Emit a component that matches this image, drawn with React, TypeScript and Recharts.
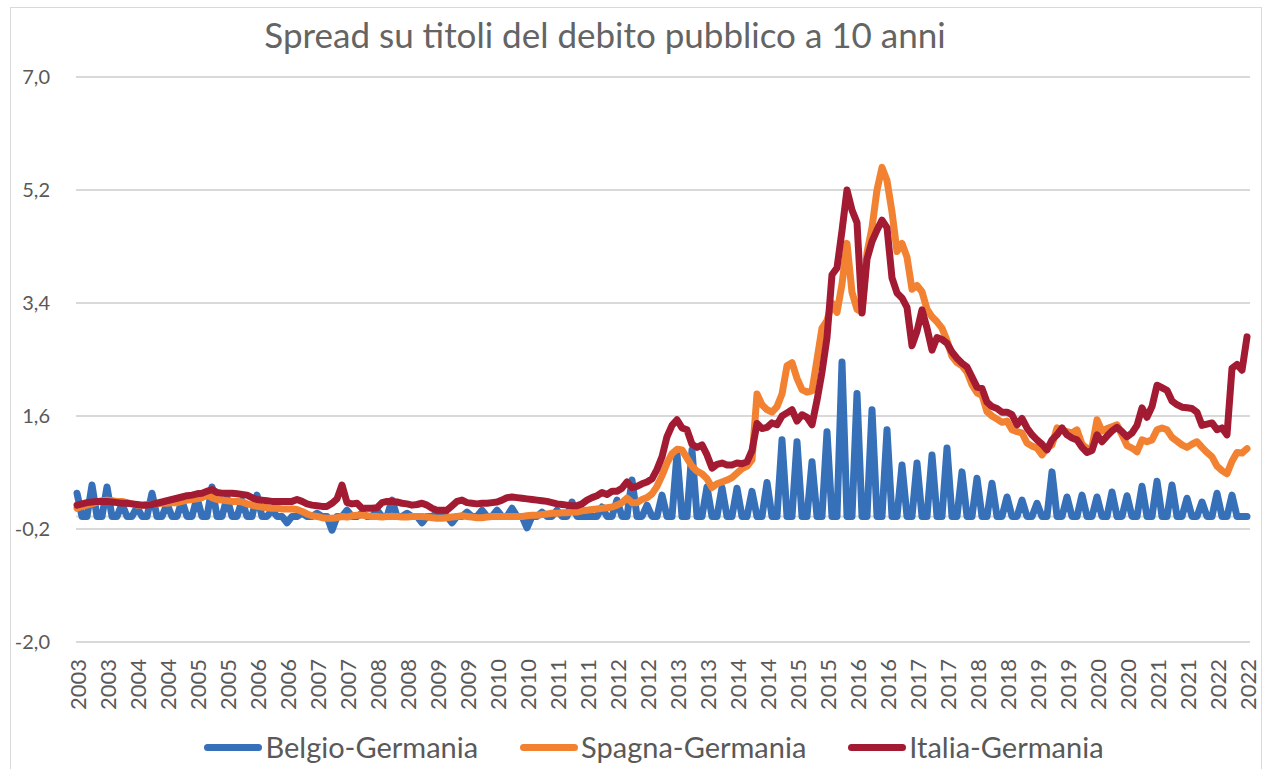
import { LineChart, Line, XAxis, YAxis, CartesianGrid, ReferenceLine } from 'recharts';

const FONT = 'Lato, "Open Sans", sans-serif';
const TEXT = '#595959';

// anni della serie mensile (gen 2003 - lug 2022)
const years = [2003, 2004, 2005, 2006, 2007, 2008, 2009, 2010, 2011, 2012, 2013, 2014, 2015, 2016, 2017, 2018, 2019, 2020, 2021, 2022];

// Belgio: dato trimestrale, i mesi vuoti finiscono a zero nel grafico originale
const belgio = [
    0.37, 0, 0, 0.5, 0, 0, 0.47, 0, 0, 0.2, 0, 0,
    0.15, 0, 0, 0.37, 0, 0, 0.2, 0, 0, 0.25, 0, 0,
    0.3, 0, 0, 0.47, 0, 0, 0.3, 0, 0, 0.25, 0, 0,
    0.34, 0, 0, 0.1, 0, 0, -0.1, 0, 0, 0.05, 0, 0,
    0.05, 0, 0, -0.22, 0, 0, 0.1, 0, 0, 0.05, 0, 0,
    0.1, 0, 0, 0.26, 0, 0, 0.05, 0, 0, -0.1, 0, 0,
    0.05, 0, 0, -0.1, 0, 0, 0.07, 0, 0, 0.1, 0, 0,
    0.1, 0, 0, 0.13, 0, 0, -0.18, 0, 0, 0.07, 0, 0,
    0.1, 0, 0, 0.23, 0, 0, 0.0, 0, 0, 0.15, 0, 0,
    0.26, 0, 0, 0.58, 0, 0, 0.18, 0, 0, 0.34, 0, 0,
    1.0, 0, 0, 1.06, 0, 0, 0.47, 0, 0, 0.46, 0, 0,
    0.45, 0, 0, 0.4, 0, 0, 0.54, 0, 0, 1.22, 0, 0,
    1.19, 0, 0, 0.87, 0, 0, 1.35, 0, 0, 2.46, 0, 0,
    1.96, 0, 0, 1.7, 0, 0, 1.38, 0, 0, 0.82, 0, 0,
    0.85, 0, 0, 0.98, 0, 0, 1.09, 0, 0, 0.71, 0, 0,
    0.61, 0, 0, 0.53, 0, 0, 0.31, 0, 0, 0.26, 0, 0,
    0.21, 0, 0, 0.71, 0, 0, 0.31, 0, 0, 0.34, 0, 0,
    0.31, 0, 0, 0.39, 0, 0, 0.33, 0, 0, 0.48, 0, 0,
    0.56, 0, 0, 0.5, 0, 0, 0.29, 0, 0, 0.23, 0, 0,
    0.37, 0, 0, 0.34, 0, 0, 0,
];

const spagna = [
    0.13, 0.16, 0.18, 0.2, 0.23, 0.25, 0.26, 0.25, 0.24, 0.24, 0.22, 0.2,
    0.18, 0.18, 0.19, 0.19, 0.2, 0.21, 0.21, 0.22, 0.22, 0.24, 0.26, 0.27,
    0.28, 0.3, 0.34, 0.3, 0.27, 0.26, 0.25, 0.24, 0.24, 0.23, 0.2, 0.18,
    0.16, 0.15, 0.14, 0.13, 0.13, 0.12, 0.12, 0.12, 0.11, 0.08, 0.04, 0.01,
    0.0, -0.02, -0.03, -0.03, -0.02, 0.0, -0.01, 0.01, 0.02, 0.02, 0.01, 0.0,
    0.0, -0.01, 0.0, 0.0, 0.0, -0.01, -0.01, 0.0, 0.0, 0.0, -0.01, -0.02,
    -0.03, -0.03, -0.02, -0.01, 0.0, 0.01, 0.0, -0.01, -0.02, -0.02, -0.01, 0.0,
    0.0, 0.0, 0.0, 0.0, 0.0, 0.0, 0.01, 0.02, 0.02, 0.03, 0.04, 0.05,
    0.05, 0.06, 0.06, 0.07, 0.07, 0.09, 0.1, 0.11, 0.12, 0.13, 0.14, 0.15,
    0.18, 0.22, 0.29, 0.22, 0.22, 0.27, 0.3, 0.36, 0.48, 0.65, 0.85, 1.0,
    1.07, 1.06, 0.93, 0.8, 0.72, 0.68, 0.6, 0.46, 0.52, 0.55, 0.58, 0.62,
    0.69, 0.76, 0.8, 0.9, 1.95, 1.78, 1.7, 1.66, 1.75, 1.95, 2.4, 2.45,
    2.2, 2.02, 1.98, 2.0, 2.5, 3.0, 3.12, 3.4, 3.25, 3.7, 4.35, 3.57,
    3.3, 3.26, 4.2, 4.6, 5.2, 5.56, 5.35, 4.85, 4.22, 4.35, 4.13, 3.62,
    3.68, 3.58, 3.3, 3.18, 3.1, 3.0, 2.8, 2.55, 2.45, 2.4, 2.3, 2.1,
    1.97, 1.93, 1.67, 1.6, 1.55, 1.5, 1.52, 1.38, 1.35, 1.33, 1.17, 1.12,
    1.09, 0.98, 1.09, 1.14, 1.41, 1.37, 1.35, 1.33, 1.38, 1.15, 1.08, 1.1,
    1.54, 1.36, 1.4, 1.43, 1.46, 1.3, 1.13, 1.09, 1.03, 1.22, 1.19, 1.22,
    1.38, 1.41, 1.38, 1.26, 1.2, 1.14, 1.1, 1.15, 1.19, 1.1, 1.02, 0.95,
    0.8, 0.73, 0.68, 0.88, 1.02, 1.01, 1.08,
];

const italia = [
    0.18, 0.2, 0.22, 0.23, 0.24, 0.24, 0.24, 0.23, 0.22, 0.21, 0.21, 0.2,
    0.19, 0.18, 0.18, 0.19, 0.21, 0.23, 0.25, 0.27, 0.29, 0.31, 0.33, 0.34,
    0.36, 0.37, 0.4, 0.43, 0.38, 0.37, 0.37, 0.37, 0.36, 0.35, 0.34, 0.3,
    0.27, 0.26, 0.25, 0.24, 0.24, 0.24, 0.24, 0.24, 0.27, 0.24, 0.2, 0.18,
    0.17, 0.16, 0.16, 0.21, 0.28, 0.5, 0.22, 0.2, 0.21, 0.13, 0.13, 0.13,
    0.14, 0.22, 0.24, 0.24, 0.23, 0.21, 0.2, 0.18, 0.19, 0.21, 0.18, 0.13,
    0.1, 0.1, 0.1, 0.17, 0.24, 0.26, 0.22, 0.21, 0.2, 0.21, 0.21, 0.22,
    0.23, 0.26, 0.3, 0.31, 0.3, 0.29, 0.28, 0.27, 0.26, 0.25, 0.24, 0.22,
    0.2, 0.19, 0.18, 0.17, 0.17, 0.2, 0.26, 0.3, 0.33, 0.38, 0.35, 0.4,
    0.4, 0.45, 0.55, 0.46, 0.48, 0.52, 0.55, 0.6, 0.75, 0.95, 1.27, 1.45,
    1.54, 1.41, 1.38, 1.15, 1.1, 1.14, 0.98, 0.77, 0.83, 0.85, 0.82, 0.82,
    0.85, 0.84, 0.87, 1.05, 1.48, 1.4, 1.42, 1.49, 1.46, 1.6, 1.65, 1.7,
    1.52, 1.62, 1.58, 1.46, 1.85, 2.3, 2.85, 3.85, 3.96, 4.55, 5.2, 4.88,
    4.68, 3.24, 4.1, 4.38, 4.56, 4.72, 4.6, 3.8, 3.56, 3.48, 3.33, 2.72,
    2.95, 3.29, 3.0, 2.65, 2.85, 2.82, 2.76, 2.62, 2.52, 2.44, 2.38, 2.22,
    2.06, 2.04, 1.82, 1.75, 1.72, 1.66, 1.66, 1.62, 1.46, 1.56, 1.41, 1.3,
    1.22, 1.15, 1.06, 1.22, 1.3, 1.41, 1.3, 1.25, 1.22, 1.1, 1.02, 1.05,
    1.3, 1.19, 1.28, 1.36, 1.42, 1.35, 1.27, 1.33, 1.45, 1.73, 1.58, 1.75,
    2.09, 2.05, 2.01, 1.84, 1.78, 1.74, 1.73, 1.72, 1.66, 1.45, 1.47, 1.49,
    1.38, 1.41, 1.3, 2.36, 2.42, 2.33, 2.86,
];

const yTicks = [-2, -0.2, 1.6, 3.4, 5.2, 7];

const months = years
    .flatMap((y) => Array.from({ length: 12 }, (_, m) => `${y}-${String(m + 1).padStart(2, '0')}`))
    .slice(0, belgio.length);

const data = months.map((month, i) => ({
    month,
    belgio: belgio[i],
    spagna: spagna[i],
    italia: italia[i],
}));

const series = [
    { key: 'belgio', name: 'Belgio-Germania', color: '#3670B8' },
    { key: 'spagna', name: 'Spagna-Germania', color: '#F28232' },
    { key: 'italia', name: 'Italia-Germania', color: '#A31B33' },
];

const XTick = ({ x, y, payload }: any) => (
    <text
        x={x}
        y={y}
        transform={`rotate(-90 ${x} ${y})`}
        textAnchor="end"
        dominantBaseline="central"
        fill={TEXT}
        fontSize={22}
        fontFamily={FONT}
    >
        {String(payload.value).slice(0, 4)}
    </text>
);

export default function App() {
    return (
        <div style={{
            position: 'absolute',
            left: 10,
            top: 7,
            width: 1250,
            height: 762,
            border: '1px solid #d9d9d9',
            background: '#fff',
            fontFamily: FONT,
        }}>
            <div style={{
                position: 'absolute',
                left: 0,
                top: 9,
                width: 1188,
                textAlign: 'center',
                fontSize: 35,
                lineHeight: '34px',
                color: '#646464',
            }}>
                Spread su titoli del debito pubblico a 10 anni
            </div>

            <LineChart
                width={1250}
                height={762}
                data={data}
                margin={{ top: 69, right: 11, bottom: 38, left: 0 }}
            >
                <CartesianGrid vertical={false} stroke="#d9d9d9" strokeWidth={2} />
                <XAxis
                    dataKey="month"
                    interval={5}
                    tick={<XTick />}
                    tickLine={false}
                    axisLine={false}
                    tickMargin={11}
                    height={90}
                    padding={{ left: 1, right: 3 }}
                />
                <YAxis
                    type="number"
                    domain={[-2, 7]}
                    ticks={yTicks}
                    interval={0}
                    width={65}
                    tickLine={false}
                    axisLine={false}
                    tickMargin={20}
                    tickFormatter={(v: number) => v.toFixed(1).replace('.', ',')}
                    tick={{ fill: TEXT, fontSize: 20, fontFamily: FONT }}
                />
                <ReferenceLine y={0} stroke="#d9d9d9" strokeWidth={2} />
                {series.map((s) => (
                    <Line
                        key={s.key}
                        type="linear"
                        dataKey={s.key}
                        name={s.name}
                        stroke={s.color}
                        strokeWidth={7}
                        strokeLinejoin="round"
                        strokeLinecap="round"
                        dot={false}
                        activeDot={false}
                        isAnimationActive={false}
                    />
                ))}
            </LineChart>

            <div style={{
                position: 'absolute',
                left: 43,
                top: 724,
                width: 1200,
                height: 30,
                display: 'flex',
                justifyContent: 'center',
                alignItems: 'center',
                gap: 42,
                fontSize: 29,
                lineHeight: '30px',
                color: TEXT,
            }}>
                {series.map((s) => (
                    <div key={s.key} style={{ display: 'flex', alignItems: 'center' }}>
                        <span style={{
                            display: 'inline-block',
                            width: 58,
                            height: 7,
                            borderRadius: 4,
                            background: s.color,
                            marginRight: 3,
                        }} />
                        <span>{s.name}</span>
                    </div>
                ))}
            </div>
        </div>
    );
}
